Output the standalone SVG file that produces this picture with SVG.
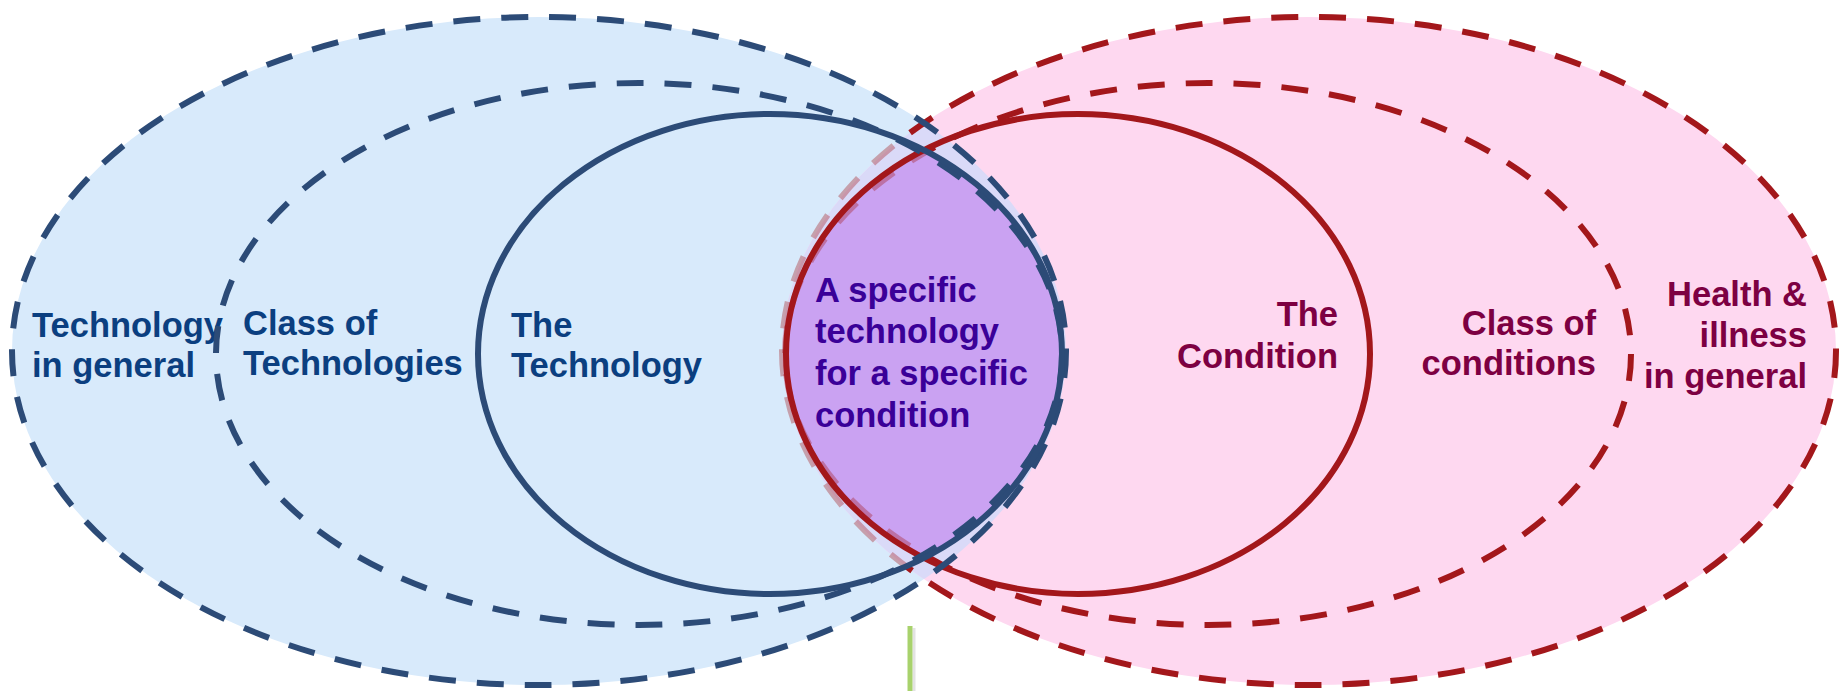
<svg xmlns="http://www.w3.org/2000/svg" xmlns:xlink="http://www.w3.org/1999/xlink" width="1845" height="691" viewBox="0 0 1845 691">
  <style>
    .lbl{font-family:"Liberation Sans",Arial,Helvetica,sans-serif;font-weight:bold;font-size:34.5px}
    .tb{fill:#0B3F80}
    .tr{fill:#7D0042;text-anchor:end}
    .tl{fill:#3A0098}
    .db{fill:none;stroke:#2C4B77;stroke-width:6;stroke-dasharray:27 21}
    .sb{fill:none;stroke:#2C4B77;stroke-width:6}
    .dr{fill:none;stroke:#A3171B;stroke-width:6;stroke-dasharray:27 21}
    .sr{fill:none;stroke:#A3171B;stroke-width:6}
  </style>
  <defs>
    <!-- outlines shared by fills and strokes -->
    <ellipse id="eBlueOuter" cx="539" cy="351" rx="527" ry="334"/>
    <ellipse id="eBlueClass" cx="639" cy="354" rx="423" ry="271"/>
    <ellipse id="eBlueTech" cx="770" cy="354" rx="292" ry="240"/>
    <ellipse id="eRedCond" cx="1078" cy="354" rx="292" ry="240"/>
    <ellipse id="eRedClass" cx="1208" cy="354" rx="423" ry="271"/>
    <ellipse id="eRedOuter" cx="1309" cy="351" rx="527" ry="334"/>
    <clipPath id="cBlueOuter"><use xlink:href="#eBlueOuter"/></clipPath>
    <clipPath id="cBlueTech"><use xlink:href="#eBlueTech"/></clipPath>
    <clipPath id="cOutsideTech">
      <path clip-rule="evenodd" d="M0,0H1845V691H0Z M478,354a292,240 0 1,0 584,0a292,240 0 1,0 -584,0Z"/>
    </clipPath>
  </defs>

  <!-- region shading -->
  <g id="fills">
    <use xlink:href="#eBlueOuter" fill="#D8EAFB"/>
    <use xlink:href="#eRedOuter" fill="#FED8F0"/>
    <use xlink:href="#eRedOuter" fill="#DADAF8" clip-path="url(#cBlueOuter)"/>
    <use xlink:href="#eRedCond" fill="#CAA2F2" clip-path="url(#cBlueTech)"/>
  </g>

  <!-- condition side: dashed outlines fade where the technology circle covers them -->
  <g id="health-general">
    <use xlink:href="#eRedOuter" class="dr" clip-path="url(#cOutsideTech)"/>
    <g clip-path="url(#cBlueTech)" opacity="0.35"><use xlink:href="#eRedOuter" class="dr"/></g>
    <text class="lbl tr" x="1807" y="306">Health &amp;</text>
    <text class="lbl tr" x="1807" y="347">illness</text>
    <text class="lbl tr" x="1807" y="388">in general</text>
  </g>
  <g id="class-conditions">
    <use xlink:href="#eRedClass" class="dr" clip-path="url(#cOutsideTech)"/>
    <g clip-path="url(#cBlueTech)" opacity="0.35"><use xlink:href="#eRedClass" class="dr"/></g>
    <text class="lbl tr" x="1596" y="335">Class of</text>
    <text class="lbl tr" x="1596" y="375">conditions</text>
  </g>
  <g id="condition">
    <use xlink:href="#eRedCond" class="sr"/>
    <text class="lbl tr" x="1338" y="326">The</text>
    <text class="lbl tr" x="1338" y="368">Condition</text>
  </g>

  <!-- technology side -->
  <g id="technology-general">
    <use xlink:href="#eBlueOuter" class="db"/>
    <text class="lbl tb" x="32" y="337">Technology</text>
    <text class="lbl tb" x="32" y="377">in general</text>
  </g>
  <g id="class-technologies">
    <use xlink:href="#eBlueClass" class="db"/>
    <text class="lbl tb" x="243" y="335">Class of</text>
    <text class="lbl tb" x="243" y="375">Technologies</text>
  </g>
  <g id="technology">
    <use xlink:href="#eBlueTech" class="sb"/>
    <text class="lbl tb" x="511" y="337">The</text>
    <text class="lbl tb" x="511" y="377">Technology</text>
  </g>

  <!-- overlap of the technology and the condition -->
  <g id="specific">
    <text class="lbl tl" x="815" y="302">A specific</text>
    <text class="lbl tl" x="815" y="343">technology</text>
    <text class="lbl tl" x="815" y="385">for a specific</text>
    <text class="lbl tl" x="815" y="427">condition</text>
  </g>

  <g id="connectors">
    <line x1="914" y1="628" x2="914" y2="691" stroke="#B0B0B0" stroke-width="3" opacity="0.35"/>
    <line x1="910" y1="626" x2="910" y2="691" stroke="#A8D26C" stroke-width="5"/>
  </g>
</svg>
